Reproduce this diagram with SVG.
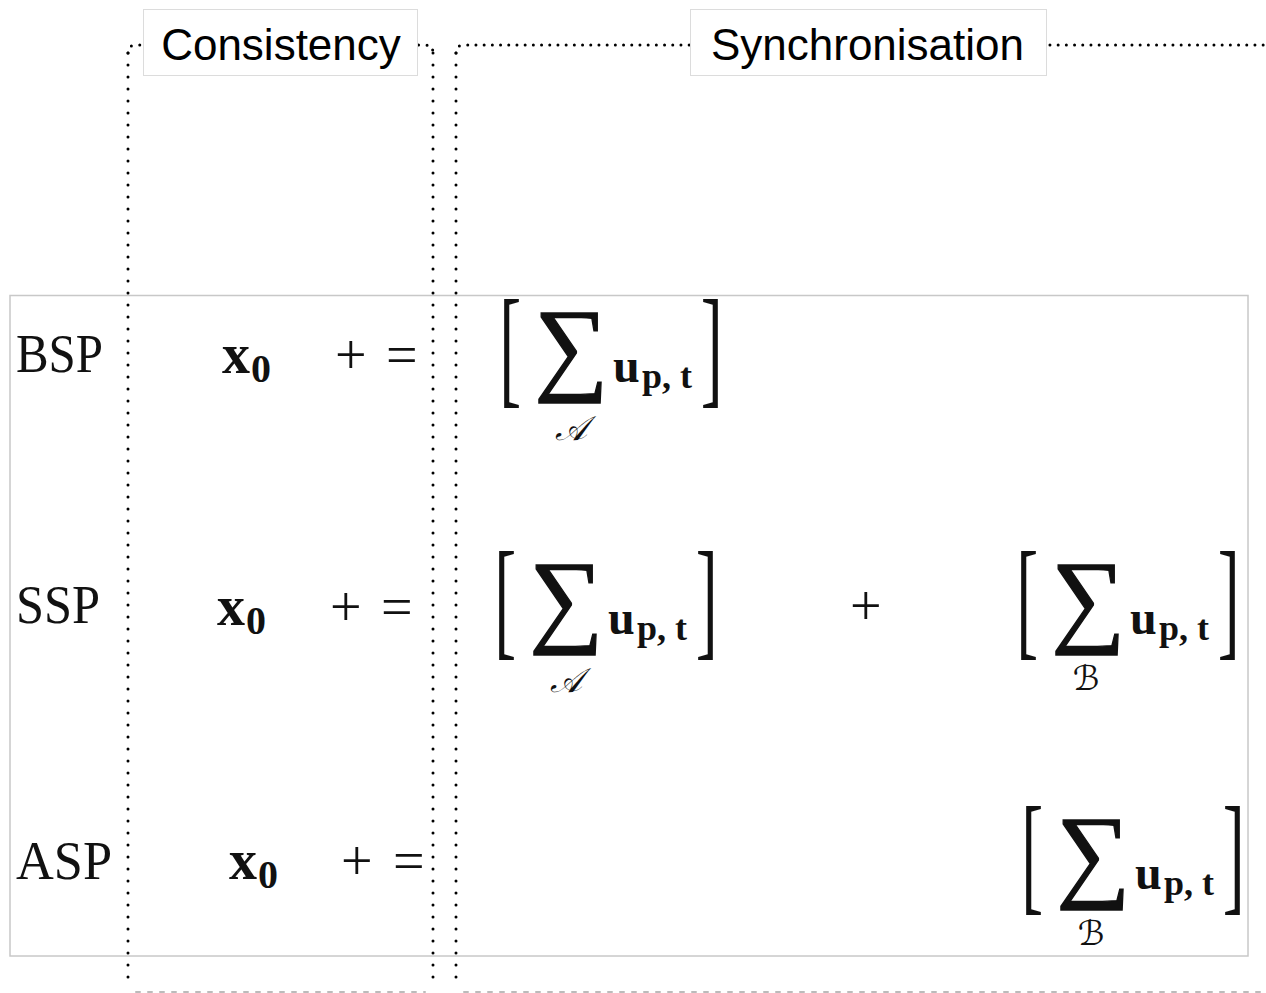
<svg xmlns="http://www.w3.org/2000/svg" xmlns:xlink="http://www.w3.org/1999/xlink" width="1266" height="993" viewBox="0 0 1266 993">
<style>
.lbl{font-family:"Liberation Sans",Arial,sans-serif;font-size:44px;fill:#000;text-anchor:middle}
.lblbox{fill:#fff;stroke:#dcdcdc;stroke-width:1}
.m{font-family:"Liberation Serif","Times New Roman",serif;fill:#111}
.b{font-weight:bold}
.sig{stroke:#111;stroke-width:1.3}
.vdot{fill:none;stroke:#000;stroke-width:3;stroke-linecap:round;stroke-dasharray:0 12}
.hdot{fill:none;stroke:#000;stroke-width:3;stroke-linecap:round;stroke-dasharray:0 8.2}
.bdot{fill:none;stroke:#bbb;stroke-width:2;stroke-linecap:round;stroke-dasharray:4 8}
.scr{font-family:"DejaVu Serif","DejaVu Sans","Noto Sans",serif;font-style:italic;fill:#111;text-anchor:middle}
</style>
<defs>
<g id="sumCore">
<text class="m" font-size="66" transform="translate(-5.8,87.4) scale(1,2)">[</text>
<text class="m sig" font-size="104" x="66" y="78" text-anchor="middle">∑</text>
<text class="m b" font-size="48" x="108" y="79">u</text>
<text class="m b" font-size="36" x="137" y="85">p, t</text>
<text class="m" font-size="66" transform="translate(195.8,87.4) scale(1,2)">]</text>
</g>
<g id="sumA">
<use xlink:href="#sumCore"/>
<text class="scr" font-size="34" x="66" y="137">𝒜</text>
</g>
<g id="sumB">
<use xlink:href="#sumCore"/>
<text class="scr" font-size="34" x="64" y="135">ℬ</text>
</g>
</defs>
<rect width="1266" height="993" fill="#fff"/>
<g id="table-frame">
<rect x="10" y="295.5" width="1238" height="660.5" fill="none" stroke="#c8c8c8" stroke-width="1.5"/>
</g>
<g id="connectors">
<g id="consistency-frame">
<path class="vdot" d="M128,53 L128,985"/>
<path class="vdot" d="M433,53 L433,985"/>
<path class="hdot" d="M128,53 Q128,45 136,45 L425,45 Q433,45 433,53"/>
<path class="bdot" d="M136,992 L425,992"/>
</g>
<g id="sync-frame">
<path class="vdot" d="M456,53 L456,985"/>
<path class="hdot" d="M456,53 Q456,45 464,45 L1266,45"/>
<path class="bdot" d="M464,992 L1266,992"/>
</g>
</g>
<g id="label-consistency">
<rect class="lblbox" x="143.5" y="9.5" width="274" height="66"/>
<text class="lbl" x="281" y="60">Consistency</text>
</g>
<g id="label-synchronisation">
<rect class="lblbox" x="690.5" y="9.5" width="356" height="66"/>
<text class="lbl" x="867.5" y="60">Synchronisation</text>
</g>
<g id="row-bsp">
<text class="m" font-size="54" x="16" y="372" textLength="87" lengthAdjust="spacingAndGlyphs">BSP</text>
<text class="m b" font-size="56" x="222" y="373">x</text>
<text class="m b" font-size="40" x="251" y="382">0</text>
<text class="m" font-size="56" x="335" y="374">+</text>
<text class="m" font-size="56" x="386" y="374">=</text>
<use xlink:href="#sumA" x="505" y="303"/>
</g>
<g id="row-ssp">
<text class="m" font-size="54" x="16" y="623" textLength="84" lengthAdjust="spacingAndGlyphs">SSP</text>
<text class="m b" font-size="56" x="217" y="625">x</text>
<text class="m b" font-size="40" x="246" y="634">0</text>
<text class="m" font-size="56" x="330" y="626">+</text>
<text class="m" font-size="56" x="381" y="626">=</text>
<use xlink:href="#sumA" x="500" y="555"/>
<text class="m" font-size="56" x="850" y="625">+</text>
<use xlink:href="#sumB" x="1022" y="555"/>
</g>
<g id="row-asp">
<text class="m" font-size="54" x="16" y="879" textLength="96" lengthAdjust="spacingAndGlyphs">ASP</text>
<text class="m b" font-size="56" x="229" y="879">x</text>
<text class="m b" font-size="40" x="258" y="888">0</text>
<text class="m" font-size="56" x="341" y="880">+</text>
<text class="m" font-size="56" x="393" y="880">=</text>
<use xlink:href="#sumB" x="1027" y="810"/>
</g>
</svg>
